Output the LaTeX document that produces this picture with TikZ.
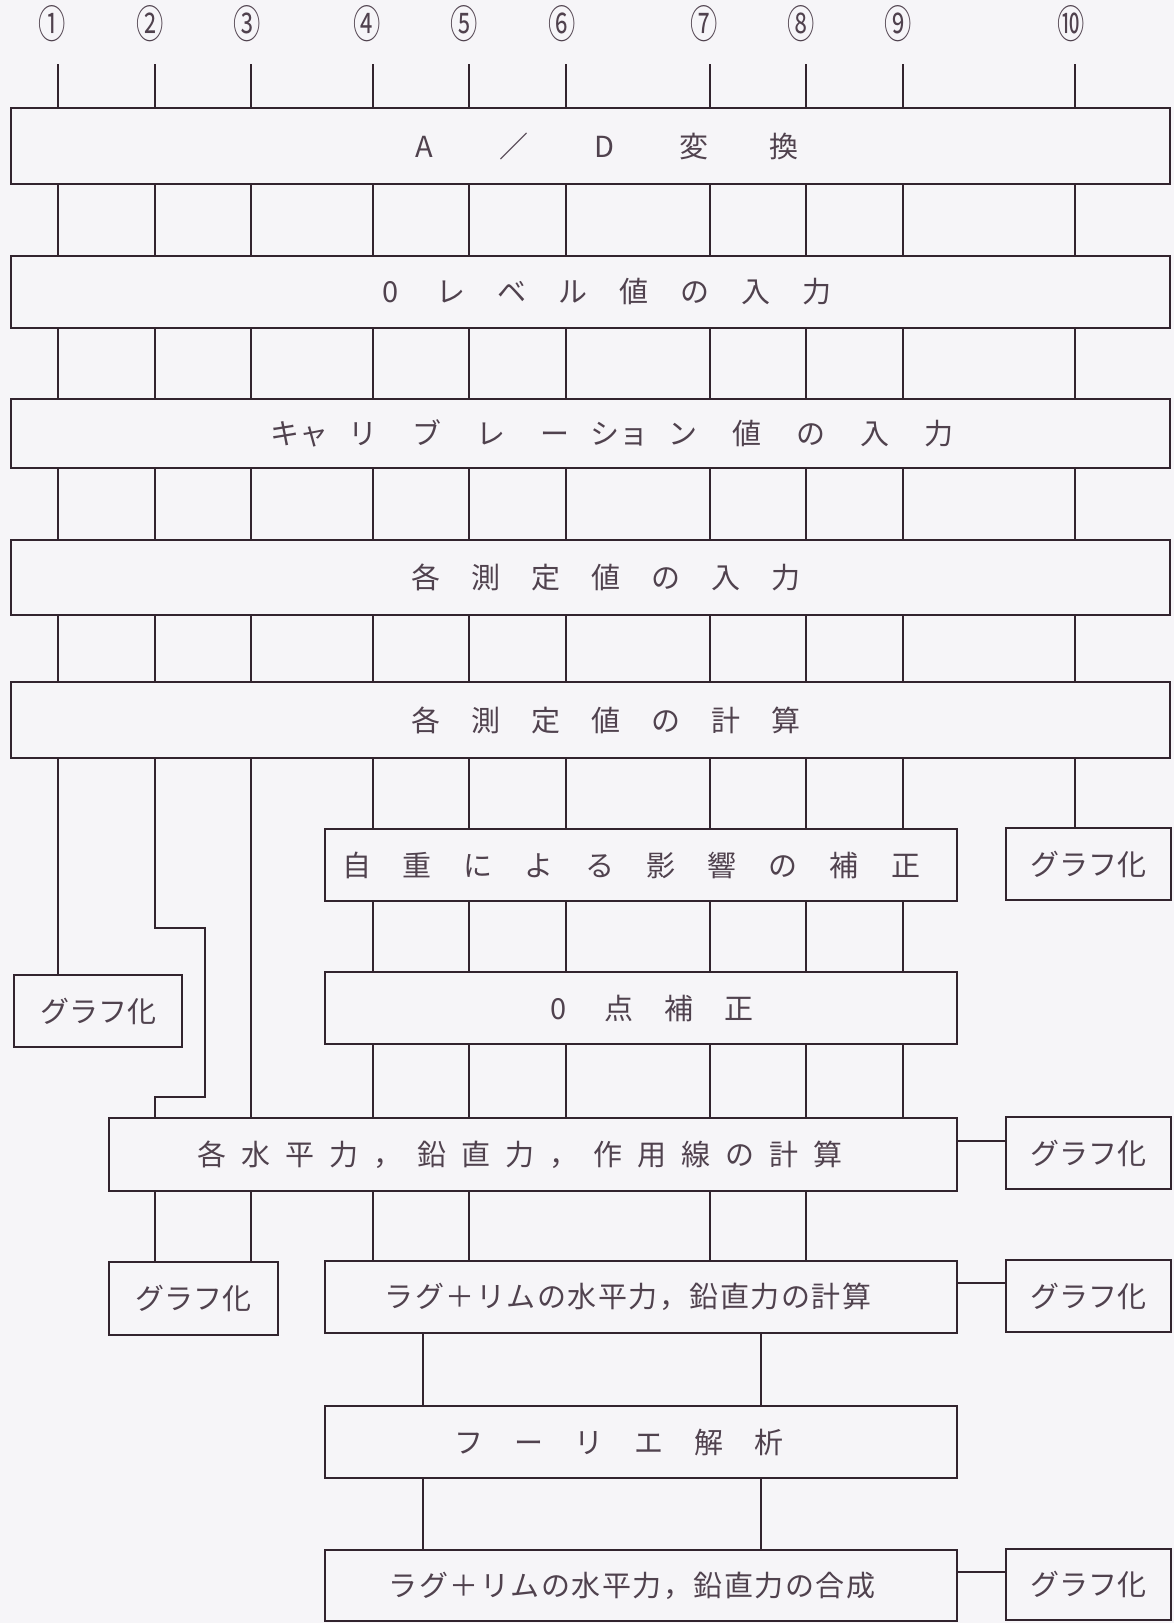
\documentclass[tikz,border=0pt]{standalone}
\usepackage{fontspec}
\newfontfamily\jp{Noto Sans CJK JP}
\usetikzlibrary{calc}
\definecolor{ink}{RGB}{50,36,46}
\definecolor{txt}{RGB}{80,66,78}
\definecolor{paper}{RGB}{246,245,248}
\ExplSyntaxOn
\NewDocumentCommand\spaced{mm}{\tl_map_inline:nn{#2}{\makebox[#1]{##1}}}
\ExplSyntaxOff
\newcommand\cnum[1]{\scalebox{0.7}[1]{#1}}
\tikzset{
  bx/.style={draw=ink, line width=2.6pt, inner sep=0pt, outer sep=0pt, text=txt,
             font=\jp\fontsize{29}{34}\selectfont},
  wire/.style={draw=ink, line width=2.6pt},
  num/.style={text=txt, inner sep=0pt, font=\jp\fontsize{39}{42}\selectfont}
}
\begin{document}
\begin{tikzpicture}[x=1pt,y=-1pt]
\fill[paper] (0,0) rectangle (1174,1623);
\useasboundingbox (0,0) rectangle (1174,1623);

% column coordinates (top ends of the ticks)
\coordinate (t1) at (58,64);
\coordinate (t2) at (155,64);
\coordinate (t3) at (251,64);
\coordinate (t4) at (373,64);
\coordinate (t5) at (469,64);
\coordinate (t6) at (566,64);
\coordinate (t7) at (710,64);
\coordinate (t8) at (806,64);
\coordinate (t9) at (903,64);
\coordinate (t10) at (1075,64);
\coordinate (k1) at (423,0);
\coordinate (k2) at (761,0);
\coordinate (j1) at (205,928);
\coordinate (j2) at (205,1097);

% circled numbers
\node[num] (n1) at (52,24) {\cnum{①}};
\node[num] (n2) at (150,24) {\cnum{②}};
\node[num] (n3) at (247,24) {\cnum{③}};
\node[num] (n4) at (367,24) {\cnum{④}};
\node[num] (n5) at (464,24) {\cnum{⑤}};
\node[num] (n6) at (562,24) {\cnum{⑥}};
\node[num] (n7) at (704,24) {\cnum{⑦}};
\node[num] (n8) at (801,24) {\cnum{⑧}};
\node[num] (n9) at (898,24) {\cnum{⑨}};
\node[num] (n10) at (1071,24) {\cnum{⑩}};

% main wide boxes
\node[bx, minimum width=1159pt, minimum height=76pt] (B1) at (590.5,146)
  {\hspace*{27pt}\spaced{90pt}{A／D変換}};
\node[bx, minimum width=1159pt, minimum height=72pt] (B2) at (590.5,292)
  {\hspace*{27pt}\spaced{61pt}{0レベル値の入力}};
\node[bx, minimum width=1159pt, minimum height=69pt] (B3) at (590.5,433.5)
  {\hspace*{58pt}\spaced{64pt}{{キャ}リブレー{ショ}ン値の入力}};
\node[bx, minimum width=1159pt, minimum height=75pt] (B4) at (590.5,577.5)
  {\hspace*{31pt}\spaced{60pt}{各測定値の入力}};
\node[bx, minimum width=1159pt, minimum height=76pt] (B5) at (590.5,720)
  {\hspace*{31pt}\spaced{60pt}{各測定値の計算}};

% middle boxes
\node[bx, minimum width=632pt, minimum height=72pt] (J) at (641,865)
  {\spaced{61pt}{自重による影響の補正}\hspace*{20pt}};
\node[bx, minimum width=632pt, minimum height=72pt] (Z) at (641,1008)
  {\hspace*{16pt}\spaced{60pt}{0点補正}};
\node[bx, minimum width=848pt, minimum height=73pt] (B6) at (533,1154.5)
  {\spaced{44pt}{各水平力，鉛直力，作用線の計算}\hspace*{26pt}};
\node[bx, minimum width=632pt, minimum height=72pt] (K) at (641,1297)
  {\spaced{30.5pt}{ラグ＋リムの水平力，鉛直力の計算}\hspace*{26pt}};
\node[bx, minimum width=632pt, minimum height=72pt] (F) at (641,1442)
  {\spaced{60pt}{フーリエ解析}\hspace*{44pt}};
\node[bx, minimum width=632pt, minimum height=71pt] (G) at (641,1585.5)
  {\spaced{30.5pt}{ラグ＋リムの水平力，鉛直力の合成}\hspace*{18pt}};

% graph boxes
\node[bx, minimum width=165pt, minimum height=72pt] (R1) at (1088.5,864) {グラフ化};
\node[bx, minimum width=168pt, minimum height=72pt] (L1) at (98,1011) {グラフ化};
\node[bx, minimum width=165pt, minimum height=72pt] (R2) at (1088.5,1153) {グラフ化};
\node[bx, minimum width=169pt, minimum height=73pt] (L2) at (193.5,1298.5) {グラフ化};
\node[bx, minimum width=165pt, minimum height=72pt] (R3) at (1088.5,1296) {グラフ化};
\node[bx, minimum width=165pt, minimum height=71pt] (R4) at (1088.5,1584.5) {グラフ化};

% connectors
\foreach \i in {1,...,10} {
  \draw[wire] (t\i) -- (t\i |- B1.north);
  \draw[wire] (t\i |- B1.south) -- (t\i |- B2.north);
  \draw[wire] (t\i |- B2.south) -- (t\i |- B3.north);
  \draw[wire] (t\i |- B3.south) -- (t\i |- B4.north);
  \draw[wire] (t\i |- B4.south) -- (t\i |- B5.north);
}
\draw[wire] (t1 |- B5.south) -- (t1 |- L1.north);
\draw[wire] (t2 |- B5.south) -- (t2 |- j1) -- (j1) -- (j2) -- (t2 |- j2) -- (t2 |- B6.north);
\draw[wire] (t3 |- B5.south) -- (t3 |- B6.north);
\foreach \i in {4,...,9} {
  \draw[wire] (t\i |- B5.south) -- (t\i |- J.north);
  \draw[wire] (t\i |- J.south) -- (t\i |- Z.north);
  \draw[wire] (t\i |- Z.south) -- (t\i |- B6.north);
}
\draw[wire] (t10 |- B5.south) -- (t10 |- R1.north);
\foreach \i in {2,3} \draw[wire] (t\i |- B6.south) -- (t\i |- L2.north);
\foreach \i in {4,5,7,8} \draw[wire] (t\i |- B6.south) -- (t\i |- K.north);
\draw[wire] ([yshift=-23pt]B6.north east) -- ([yshift=-23pt]B6.north east -| R2.west);
\draw[wire] ([yshift=-22pt]K.north east) -- ([yshift=-22pt]K.north east -| R3.west);
\draw[wire] ([yshift=-22pt]G.north east) -- ([yshift=-22pt]G.north east -| R4.west);
\foreach \k in {k1,k2} {
  \draw[wire] (\k |- K.south) -- (\k |- F.north);
  \draw[wire] (\k |- F.south) -- (\k |- G.north);
}
\end{tikzpicture}
\end{document}
